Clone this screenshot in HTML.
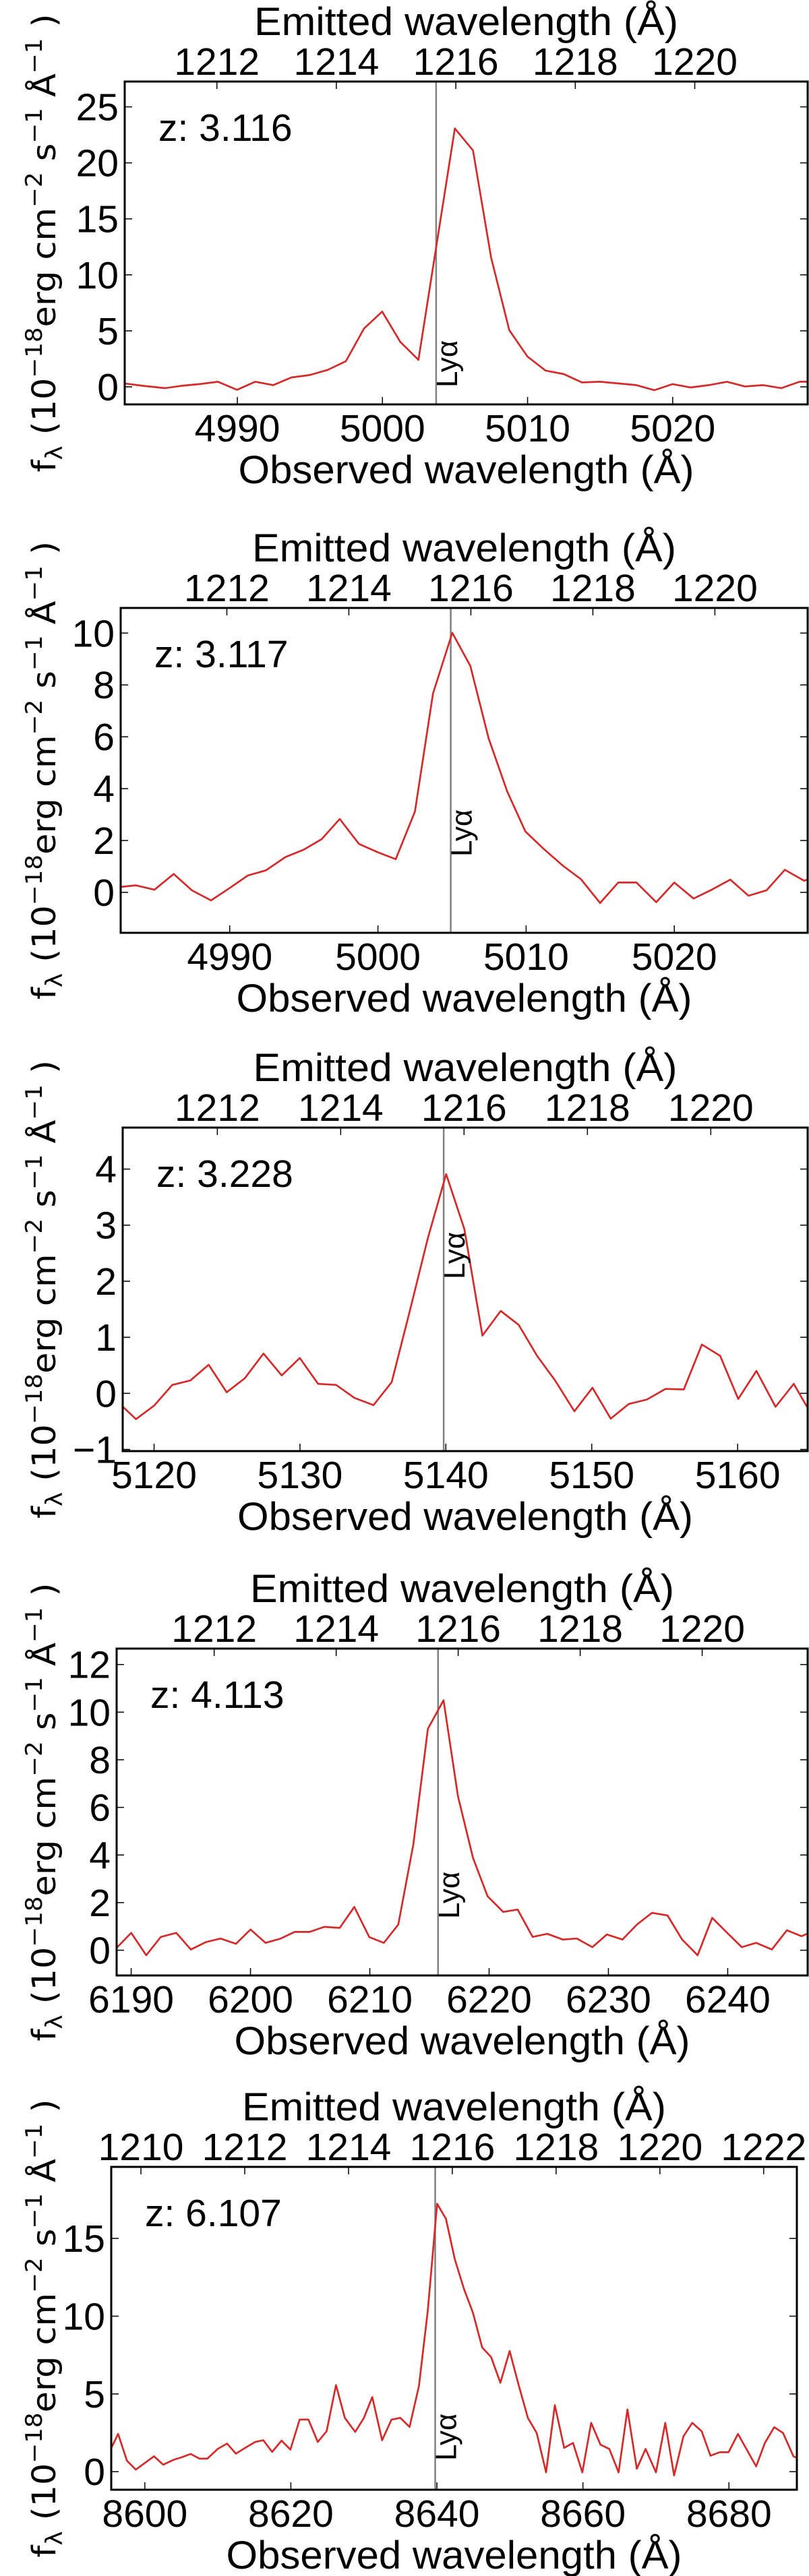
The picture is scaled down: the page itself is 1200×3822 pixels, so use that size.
<!DOCTYPE html>
<html><head><meta charset="utf-8"><title>Lyman-alpha spectra</title>
<style>
html,body{margin:0;padding:0;background:#fff;}
svg{display:block;}
text{font-family:"Liberation Sans",sans-serif;fill:#000;}
</style></head>
<body>
<svg id="fig" xmlns="http://www.w3.org/2000/svg" width="1200" height="3822" viewBox="0 0 1200 3822"></svg>
<script>
// ---------- data ----------
const redshifts = [3.116, 3.117, 3.228, 4.113, 6.107];
const lyaRest = 1215.67;

const p1Wave = [4982.23,4983.48,4985.01,4986.16,4987.41,4988.66,4989.98,4991.23,4992.48,4993.73,4994.98,4996.23,4997.48,4998.73,4999.98,5001.23,5002.48,5004.99,5006.24,5007.49,5008.74,5009.99,5011.24,5012.49,5013.74,5014.99,5016.24,5017.49,5018.74,5019.99,5021.24,5022.49,5023.74,5024.99,5026.24,5027.49,5028.74,5029.28];
const p1Flux = [0.30,0.09,-0.12,0.09,0.24,0.45,-0.27,0.45,0.15,0.84,1.05,1.51,2.29,5.21,6.72,4.01,2.41,23.07,21.11,11.54,5.06,2.71,1.45,1.14,0.39,0.45,0.30,0.15,-0.30,0.24,-0.06,0.15,0.45,0.03,0.15,-0.12,0.45,0.45];

const p2Wave = [4982.65,4983.66,4984.92,4986.22,4987.44,4988.74,4990.00,4991.22,4992.45,4993.75,4994.97,4996.20,4997.42,4998.72,4999.98,5001.20,5002.50,5003.72,5005.02,5006.24,5007.47,5008.73,5009.95,5011.18,5012.48,5013.70,5014.99,5016.22,5017.45,5018.78,5020.00,5021.30,5022.52,5023.78,5025.01,5026.23,5027.46,5028.76,5029.00];
const p2Flux = [0.21,0.27,0.10,0.71,0.08,-0.31,0.17,0.65,0.85,1.36,1.64,2.05,2.83,1.87,1.55,1.28,3.12,7.67,10.01,8.73,5.94,3.88,2.35,1.68,1.03,0.51,-0.41,0.38,0.38,-0.38,0.38,-0.24,0.10,0.49,-0.13,0.08,0.87,0.45,0.49];

const p3Wave = [5117.87,5118.76,5120.00,5121.25,5122.49,5123.74,5124.98,5126.22,5127.50,5128.75,5129.99,5131.24,5132.48,5133.73,5135.04,5136.29,5137.53,5138.78,5140.02,5141.27,5142.51,5143.76,5145.00,5146.25,5147.49,5148.81,5150.05,5151.30,5152.54,5153.78,5155.06,5156.31,5157.55,5158.80,5160.04,5161.29,5162.60,5163.85,5164.91];
const p3Flux = [-0.24,-0.46,-0.22,0.15,0.23,0.51,0.02,0.27,0.71,0.32,0.63,0.17,0.15,-0.08,-0.21,0.20,1.47,2.78,3.91,2.93,1.03,1.47,1.22,0.67,0.23,-0.32,0.10,-0.45,-0.19,-0.11,0.08,0.07,0.87,0.67,-0.10,0.40,-0.24,0.17,-0.31];

const p4Wave = [6188.78,6190.00,6191.26,6192.48,6193.78,6195.00,6196.26,6197.48,6198.78,6200.00,6201.26,6202.48,6203.70,6204.96,6206.18,6207.48,6208.70,6209.96,6211.18,6212.39,6213.65,6214.87,6216.18,6217.39,6218.65,6219.87,6221.18,6222.39,6223.65,6224.87,6226.18,6227.35,6228.65,6229.87,6231.18,6232.39,6233.65,6234.96,6236.18,6237.48,6238.70,6239.96,6241.18,6242.39,6243.70,6244.96,6246.18,6246.83];
const p4Flux = [0.10,0.73,-0.21,0.56,0.73,0.03,0.34,0.49,0.27,0.87,0.31,0.48,0.77,0.77,0.98,0.94,1.82,0.55,0.31,1.08,4.44,9.30,10.50,6.47,3.88,2.27,1.61,1.71,0.56,0.69,0.45,0.49,0.13,0.66,0.45,1.08,1.57,1.46,0.45,-0.21,1.36,0.73,0.13,0.31,0.03,0.84,0.59,0.73];

const p5Wave = [8595.42,8596.34,8597.55,8598.76,8601.25,8602.52,8603.95,8605.01,8606.29,8607.50,8608.56,8609.98,8611.26,8612.47,8613.75,8615.10,8616.23,8617.44,8618.72,8619.93,8621.21,8622.41,8623.69,8624.90,8626.18,8627.39,8628.81,8630.01,8631.15,8632.50,8633.78,8634.99,8636.26,8637.54,8638.75,8640.03,8641.24,8642.44,8643.72,8644.93,8646.21,8647.42,8648.69,8649.97,8651.18,8652.46,8653.67,8654.95,8656.15,8657.43,8658.64,8659.92,8661.13,8662.40,8663.61,8664.89,8666.10,8667.38,8668.58,8670.00,8671.28,8672.49,8673.77,8674.98,8676.26,8677.46,8678.74,8679.95,8681.23,8682.44,8683.72,8684.92,8686.20,8687.41,8688.83,8689.33];
const p5Flux = [1.53,2.43,0.71,0.13,0.99,0.45,0.77,0.92,1.14,0.84,0.84,1.46,1.81,1.16,1.53,1.91,2.02,1.27,2.00,1.42,3.35,3.35,1.91,2.60,5.57,3.46,2.56,3.46,4.80,2.02,3.35,3.46,2.88,5.50,10.34,17.23,16.26,13.68,11.74,10.24,7.98,7.38,5.72,7.76,5.61,3.46,2.49,-0.04,4.28,1.53,1.85,-0.04,3.14,1.74,1.46,-0.04,4.00,0.19,1.46,-0.04,3.14,-0.24,2.28,3.14,2.60,1.03,1.25,1.25,2.43,1.42,0.34,1.85,2.86,2.49,0.99,0.88];

const p1XTicks = [4990,5000,5010,5020];
const p2XTicks = [4990,5000,5010,5020];
const p3XTicks = [5120,5130,5140,5150,5160];
const p4XTicks = [6190,6200,6210,6220,6230,6240];
const p5XTicks = [8600,8620,8640,8660,8680];
const p1YTicks = [0,5,10,15,20,25];
const p2YTicks = [0,2,4,6,8,10];
const p3YTicks = [-1,0,1,2,3,4];
const p4YTicks = [0,2,4,6,8,10,12];
const p5YTicks = [0,5,10,15];
const emitTicksA = [1212,1214,1216,1218,1220];
const emitTicksB = [1210,1212,1214,1216,1218,1220,1222];

// ---------- layout (pixels / axis limits) ----------
const panels = [
 {L:185,R:1198,T:121,B:600,xlim:[4982.24,5029.3],ylim:[-1.57,27.26],wave:p1Wave,flux:p1Flux,xt:p1XTicks,yt:p1YTicks,et:emitTicksA,lyaY:575},
 {L:179,R:1198,T:902,B:1384,xlim:[4982.64,5029.0],ylim:[-1.56,10.97],wave:p2Wave,flux:p2Flux,xt:p2XTicks,yt:p2YTicks,et:emitTicksA,lyaY:1271},
 {L:182,R:1198,T:1673,B:2153,xlim:[5117.85,5164.8],ylim:[-1.03,4.74],wave:p3Wave,flux:p3Flux,xt:p3XTicks,yt:p3YTicks,et:emitTicksA,lyaY:1898},
 {L:173,R:1198,T:2446,B:2931,xlim:[6188.78,6246.7],ylim:[-1.06,12.67],wave:p4Wave,flux:p4Flux,xt:p4XTicks,yt:p4YTicks,et:emitTicksA,lyaY:2847},
 {L:165,R:1182,T:3215,B:3694,xlim:[8595.4,8689.3],ylim:[-1.16,19.6],wave:p5Wave,flux:p5Flux,xt:p5XTicks,yt:p5YTicks,et:emitTicksB,lyaY:3651}
];

const NS = "http://www.w3.org/2000/svg";
const svg = document.getElementById('fig');
function mk(tag, attrs, parent){
  const e = document.createElementNS(NS, tag);
  for (const k in attrs) e.setAttribute(k, attrs[k]);
  (parent||svg).appendChild(e);
  return e;
}
function fmt(v){ return v < 0 ? '\u2212' + Math.abs(v) : String(v); }

panels.forEach((p, i) => {
  const z = redshifts[i];
  const g = mk('g', {});
  
  
  const sx = v => p.L + (v - p.xlim[0]) / (p.xlim[1] - p.xlim[0]) * (p.R - p.L);
  const sy = v => p.B - (v - p.ylim[0]) / (p.ylim[1] - p.ylim[0]) * (p.B - p.T);
  const cx = (p.L + p.R) / 2, cy = (p.T + p.B) / 2;

  // clip
  const cp = mk('clipPath', {id:'clip'+i}, g);
  mk('rect', {x:p.L, y:p.T, width:p.R-p.L, height:p.B-p.T}, cp);

  // Lya line
  const lx = sx(lyaRest * (1 + z));
  const lya = mk('line', {x1:lx, x2:lx, y1:p.T, y2:p.B, stroke:'#808080', 'stroke-width':2.5}, g);
  
  

  // spectrum
  let d = '';
  p.wave.forEach((w, k) => { d += (k ? 'L' : 'M') + sx(w).toFixed(1) + ',' + sy(p.flux[k]).toFixed(1); });
  const line = mk('path', {d:d, fill:'none', stroke:'#d42a2a', 'stroke-width':2.7, 'stroke-linejoin':'round', 'clip-path':'url(#clip'+i+')'}, g);
  
  

  // Lya label
  const lt = mk('text', {x:0, y:0, 'font-size':44, transform:'translate('+(lx+31)+','+p.lyaY+') rotate(-90)'}, g);
  lt.textContent = 'Ly\u03b1';
  
  

  // frame
  const fr = mk('rect', {x:p.L, y:p.T, width:p.R-p.L, height:p.B-p.T, fill:'none', stroke:'#000', 'stroke-width':3}, g);
  
  

  // bottom x ticks
  p.xt.forEach(t => {
    const x = sx(t);
    mk('line', {x1:x, x2:x, y1:p.B, y2:p.B-11, stroke:'#000', 'stroke-width':1.5}, g);
    const tl = mk('text', {x:x, y:p.B+55, 'font-size':57, 'text-anchor':'middle'}, g);
    tl.textContent = t;
    
    
  });
  // top emitted ticks
  p.et.forEach(t => {
    const x = sx(t * (1 + z));
    mk('line', {x1:x, x2:x, y1:p.T, y2:p.T+11, stroke:'#000', 'stroke-width':1.5}, g);
    const tl = mk('text', {x:x, y:p.T-10, 'font-size':57, 'text-anchor':'middle'}, g);
    tl.textContent = t;
    
    
  });
  // y ticks
  p.yt.forEach(t => {
    const y = sy(t);
    mk('line', {x1:p.L, x2:p.L+11, y1:y, y2:y, stroke:'#000', 'stroke-width':1.5}, g);
    mk('line', {x1:p.R, x2:p.R-11, y1:y, y2:y, stroke:'#000', 'stroke-width':1.5}, g);
    const tl = mk('text', {x:p.L-9, y:y+20, 'font-size':57, 'text-anchor':'end'}, g);
    tl.textContent = fmt(t);
    
    
  });

  // titles
  const tt = mk('text', {x:cx, y:p.T-69, 'font-size':58, 'text-anchor':'middle', textLength:629, lengthAdjust:'spacingAndGlyphs'}, g);
  tt.textContent = 'Emitted wavelength (\u00c5)';
  
  
  const xl = mk('text', {x:cx, y:p.B+117, 'font-size':58, 'text-anchor':'middle', textLength:676, lengthAdjust:'spacingAndGlyphs'}, g);
  xl.textContent = 'Observed wavelength (\u00c5)';
  
  

  // redshift label
  const zl = mk('text', {x:p.L+50, y:p.T+88, 'font-size':57}, g);
  zl.textContent = 'z: ' + z.toFixed(3);
  
  

  // y-axis label
  const yl = mk('text', {x:0, y:0, 'font-size':48, 'text-anchor':'middle', textLength:680, lengthAdjust:'spacingAndGlyphs', transform:'translate(82,'+cy+') rotate(-90)', style:'font-family:"DejaVu Sans",sans-serif'}, g);
  
  
  const parts = [
    ['f',0,1],['\u03bb',10,0.7],['  (10',-10,1],['\u221218',-20,0.7],['erg cm',20,1],['\u22122',-20,0.7],[' s',20,1],['\u22121',-20,0.7],[' \u00c5',20,1],['\u22121',-20,0.7],[' )',20,1]
  ];
  parts.forEach(pt => {
    const ts = mk('tspan', {dy:pt[1], 'font-size':48*pt[2]}, yl);
    ts.textContent = pt[0];
  });
});
</script>
</body></html>
